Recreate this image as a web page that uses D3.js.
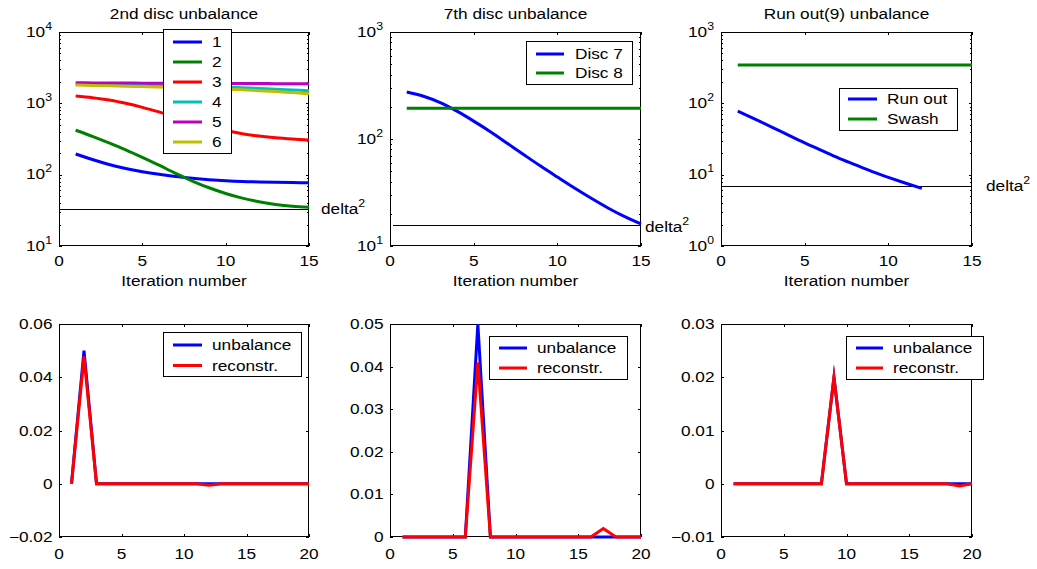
<!DOCTYPE html>
<html>
<head>
<meta charset="utf-8">
<script src="https://cdn.jsdelivr.net/npm/d3@7"></script>
<style>
  html, body { margin: 0; padding: 0; background: #fff; }
  svg { display: block; font-family: "Liberation Sans", Arial, Helvetica, sans-serif; }
</style>
</head>
<body>
<svg id="fig" width="1037" height="569"></svg>
<script>
// ---------- data ----------
const iterations = [1, 2, 3, 4, 5, 6, 7, 8, 9, 10, 11, 12, 13, 14, 15];
const iterationsRunOut = [1, 2, 3, 4, 5, 6, 7, 8, 9, 10, 11, 12];
const positions = [1, 2, 3, 4, 5, 6, 7, 8, 9, 10, 11, 12, 13, 14, 15, 16, 17, 18, 19, 20];

// 2nd disc unbalance: residual per iteration, one series per disc
const disc2Names = ["1", "2", "3", "4", "5", "6"];
const disc2S1 = [195, 163, 139, 122, 110, 101, 94, 89, 85, 82, 80, 79, 78, 77.5, 77];
const disc2S2 = [420, 345, 279, 223, 175, 136, 104, 81.5, 65.5, 54.5, 46.9, 41.8, 38.3, 36.1, 35];
const disc2S3 = [1268, 1200, 1114, 1000, 879, 760, 650, 555, 475, 415, 375, 348, 328, 315, 306];
const disc2S4 = [1850, 1840, 1825, 1810, 1795, 1775, 1755, 1735, 1710, 1680, 1650, 1615, 1580, 1540, 1500];
const disc2S5 = [1940, 1935, 1930, 1925, 1920, 1915, 1910, 1905, 1900, 1897, 1894, 1891, 1888, 1885, 1880];
const disc2S6 = [1800, 1780, 1760, 1740, 1720, 1695, 1670, 1645, 1615, 1580, 1545, 1505, 1465, 1420, 1360];
const disc2Delta = 33.5;

// 7th disc unbalance
const disc7Names = ["Disc 7", "Disc 8"];
const disc7S7 = [275, 251, 219, 182, 147, 117, 91.4, 71.3, 55.8, 44.1, 35, 28.1, 22.8, 18.9, 16.1];
const disc7S8 = [194, 194, 194, 194, 194, 194, 194, 194, 194, 194, 194, 194, 194, 194, 194];
const disc7Delta = 15.6;

// Run out(9) unbalance
const runOutNames = ["Run out", "Swash"];
const runOutS = [78, 60.5, 46.9, 36.1, 27.9, 21.9, 17.2, 13.8, 11.1, 9.16, 7.64, 6.41];
const swashS = [345, 345, 345, 345, 345, 345, 345, 345, 345, 345, 345, 345, 345, 345, 345];
const runOutDelta = 6.9;

// unbalance vs. reconstruction along the shaft
const recNames = ["unbalance", "reconstr."];
const unb1 = [0, 0.05, 0, 0, 0, 0, 0, 0, 0, 0, 0, 0, 0, 0, 0, 0, 0, 0, 0, 0];
const rec1 = [0, 0.0478, 0, 0, 0, 0, 0, 0, 0, 0, 0, -0.0006, 0, 0, 0, 0, 0, 0, 0, 0];
const unb2 = [0, 0, 0, 0, 0, 0, 0.05, 0, 0, 0, 0, 0, 0, 0, 0, 0, 0, 0, 0, 0];
const rec2 = [0, 0, 0, 0, 0, 0, 0.041, 0, 0, 0, 0, 0, 0, 0, 0, 0, 0.002, 0, 0, 0];
const unb3 = [0, 0, 0, 0, 0, 0, 0, 0, 0.02, 0, 0, 0, 0, 0, 0, 0, 0, 0, 0, 0];
const rec3 = [0, 0, 0, 0, 0, 0, 0, 0, 0.02, 0, 0, 0, 0, 0, 0, 0, 0, 0, -0.0004, 0];

// tick values and labels
const xTicksTop = [0, 5, 10, 15];
const xTickLabelsTop = ["0", "5", "10", "15"];
const xTicksBottom = [0, 5, 10, 15, 20];
const xTickLabelsBottom = ["0", "5", "10", "15", "20"];
const decadesDisc2 = [1, 2, 3, 4];
const decadesDisc7 = [1, 2, 3];
const decadesRunOut = [0, 1, 2, 3];
const yTicksB1 = [-0.02, 0, 0.02, 0.04, 0.06];
const yTickLabelsB1 = ["\u22120.02", "0", "0.02", "0.04", "0.06"];
const yTicksB2 = [0, 0.01, 0.02, 0.03, 0.04, 0.05];
const yTickLabelsB2 = ["0", "0.01", "0.02", "0.03", "0.04", "0.05"];
const yTicksB3 = [-0.01, 0, 0.01, 0.02, 0.03];
const yTickLabelsB3 = ["\u22120.01", "0", "0.01", "0.02", "0.03"];

// ---------- colours (MATLAB default line order) ----------
const BLUE = "#0000ff", GREEN = "#008000", RED = "#ff0000",
      CYAN = "#00bfbf", MAGENTA = "#bf00bf", OLIVE = "#bfbf00";

// ---------- drawing helpers ----------
const svg = d3.select("#fig");
const SX = 1.23;        // horizontal text stretch of the figure
const FS = 14;          // base font size

function label(g, x, y, s, anchor = "start", size = FS) {
  return g.append("text")
    .attr("transform", `translate(${x},${y}) scale(${SX},1)`)
    .attr("text-anchor", anchor)
    .attr("font-size", size)
    .attr("fill", "#000")
    .text(s);
}

function powerLabel(g, x, y, base, exp, anchor = "end") {
  const t = g.append("text")
    .attr("transform", `translate(${x},${y}) scale(${SX},1)`)
    .attr("text-anchor", anchor)
    .attr("font-size", FS)
    .attr("fill", "#000");
  t.append("tspan").text(base);
  t.append("tspan").attr("dy", -7).attr("font-size", 10).text(exp);
  return t;
}

let clipId = 0;

function drawPanel(p) {
  const g = svg.append("g");
  const [x0, x1] = p.xr, [y0, y1] = p.yr;
  const x = d3.scaleLinear().domain(p.xDomain).range([x0, x1]);
  const y = (p.log ? d3.scaleLog() : d3.scaleLinear()).domain(p.yDomain).range([y1, y0]);

  // white axes background
  g.append("rect").attr("x", x0).attr("y", y0).attr("width", x1 - x0).attr("height", y1 - y0)
    .attr("fill", "#fff");

  // frame (drawn beneath the data, like an axes layer at the bottom)
  g.append("rect").attr("x", x0 + 0.5).attr("y", y0 + 0.5)
    .attr("width", x1 - x0 - 1).attr("height", y1 - y0 - 1)
    .attr("fill", "none").attr("stroke", "#000").attr("stroke-width", 1);

  // inward ticks on all four sides
  const tickAxes = [
    [d3.axisBottom(x).tickValues(p.xTicks), `translate(0,${y1})`, -3],
    [d3.axisTop(x).tickValues(p.xTicks), `translate(0,${y0})`, -3],
    [d3.axisLeft(y).tickValues(p.yTicks), `translate(${x0},0)`, -3],
    [d3.axisRight(y).tickValues(p.yTicks), `translate(${x1},0)`, -3]
  ];
  if (p.minor) {
    tickAxes.push([d3.axisLeft(y).tickValues(p.minor), `translate(${x0},0)`, -2]);
    tickAxes.push([d3.axisRight(y).tickValues(p.minor), `translate(${x1},0)`, -2]);
  }
  tickAxes.forEach(([ax, tr, len]) => {
    const a = g.append("g").attr("transform", tr)
      .call(ax.tickSizeInner(len).tickSizeOuter(0).tickFormat(""));
    a.select(".domain").remove();
    a.selectAll("line").attr("stroke", "#000").attr("stroke-width", 1).attr("shape-rendering", "crispEdges");
  });

  // data lines, clipped slightly outside the axes so edge lines keep full width
  const cid = "clip" + (clipId++);
  g.append("clipPath").attr("id", cid).append("rect")
    .attr("x", x0 - 2).attr("y", y0 - 1).attr("width", x1 - x0 + 4).attr("height", y1 - y0 + 3);
  const plot = g.append("g").attr("clip-path", `url(#${cid})`);

  if (p.delta !== undefined) {
    plot.append("line")
      .attr("x1", x(p.deltaFrom)).attr("x2", x1)
      .attr("y1", Math.round(y(p.delta)) + 0.5).attr("y2", Math.round(y(p.delta)) + 0.5)
      .attr("stroke", "#000").attr("stroke-width", 1)
      .attr("shape-rendering", "crispEdges");
  }

  const line = d3.line().x(d => x(d[0])).y(d => y(d[1]))
    .curve(p.smooth ? d3.curveMonotoneX : d3.curveLinear);
  p.series.forEach(s => {
    plot.append("path")
      .datum(d3.zip(s.x, s.y))
      .attr("d", line)
      .attr("fill", "none")
      .attr("stroke", s.color)
      .attr("stroke-width", 3)
      .attr("stroke-linejoin", "miter")
      .attr("stroke-miterlimit", 10);
  });

  // tick labels
  p.xTicks.forEach((v, i) => label(g, x(v), y1 + p.xLabelDy, p.xTickLabels[i], "middle"));
  if (p.log) {
    p.yTicks.forEach((v, i) => powerLabel(g, x0 - 7, y(v) + 4.5, "10", String(p.decades[i])));
  } else {
    p.yTicks.forEach((v, i) => label(g, x0 - 6.5, y(v) + 5, p.yTickLabels[i], "end"));
  }

  if (p.title) label(g, (x0 + x1) / 2, 19, p.title, "middle");
  if (p.xTitle) label(g, (x0 + x1) / 2, 286, p.xTitle, "middle");

  if (p.delta !== undefined) {
    powerLabel(g, x1 + p.deltaDx, y(p.delta) + p.deltaDy, "delta", "2", "start");
  }

  // legend
  if (p.legend) {
    const L = p.legend;
    const lg = svg.append("g");
    lg.append("rect").attr("x", L.box[0] + 0.5).attr("y", L.box[1] + 0.5)
      .attr("width", L.box[2] - L.box[0]).attr("height", L.box[3] - L.box[1])
      .attr("fill", "#fff").attr("stroke", "#000").attr("stroke-width", 1);
    L.names.forEach((n, i) => {
      const ry = L.row0 + i * L.step;
      lg.append("line").attr("x1", L.line[0]).attr("x2", L.line[1])
        .attr("y1", ry).attr("y2", ry)
        .attr("stroke", L.colors[i]).attr("stroke-width", 3);
      label(lg, L.textX, ry + 5, n, "start");
    });
  }
}

function minorTicks(decades) {
  const out = [];
  for (let i = 0; i < decades.length - 1; i++)
    for (let k = 2; k <= 9; k++) out.push(k * Math.pow(10, decades[i]));
  return out;
}

const colTop = [[59, 309], [390, 641], [721, 972]];
const rowTop = [32, 246], rowBottom = [324, 537];

// ---------- top row: residual vs. iteration (log scale) ----------
drawPanel({
  xr: colTop[0], yr: rowTop, xDomain: [0, 15], log: true, smooth: true,
  yDomain: [Math.pow(10, decadesDisc2[0]), Math.pow(10, decadesDisc2[decadesDisc2.length - 1])],
  xTicks: xTicksTop, xTickLabels: xTickLabelsTop, xLabelDy: 20,
  yTicks: decadesDisc2.map(e => Math.pow(10, e)), decades: decadesDisc2, minor: minorTicks(decadesDisc2),
  title: "2nd disc unbalance", xTitle: "Iteration number",
  delta: disc2Delta, deltaFrom: 0, deltaDx: 12, deltaDy: 5,
  series: [
    { x: iterations, y: disc2S1, color: BLUE },
    { x: iterations, y: disc2S2, color: GREEN },
    { x: iterations, y: disc2S3, color: RED },
    { x: iterations, y: disc2S4, color: CYAN },
    { x: iterations, y: disc2S5, color: MAGENTA },
    { x: iterations, y: disc2S6, color: OLIVE }
  ],
  legend: { box: [163, 29, 231, 153], row0: 42, step: 20, line: [173, 202], textX: 212,
            names: disc2Names, colors: [BLUE, GREEN, RED, CYAN, MAGENTA, OLIVE] }
});

drawPanel({
  xr: colTop[1], yr: rowTop, xDomain: [0, 15], log: true, smooth: true,
  yDomain: [Math.pow(10, decadesDisc7[0]), Math.pow(10, decadesDisc7[decadesDisc7.length - 1])],
  xTicks: xTicksTop, xTickLabels: xTickLabelsTop, xLabelDy: 20,
  yTicks: decadesDisc7.map(e => Math.pow(10, e)), decades: decadesDisc7, minor: minorTicks(decadesDisc7),
  title: "7th disc unbalance", xTitle: "Iteration number",
  delta: disc7Delta, deltaFrom: 0.2, deltaDx: 4, deltaDy: 6.5,
  series: [
    { x: iterations, y: disc7S7, color: BLUE },
    { x: iterations, y: disc7S8, color: GREEN }
  ],
  legend: { box: [526, 41, 632, 84], row0: 54, step: 19, line: [536, 564], textX: 575,
            names: disc7Names, colors: [BLUE, GREEN] }
});

drawPanel({
  xr: colTop[2], yr: rowTop, xDomain: [0, 15], log: true, smooth: true,
  yDomain: [Math.pow(10, decadesRunOut[0]), Math.pow(10, decadesRunOut[decadesRunOut.length - 1])],
  xTicks: xTicksTop, xTickLabels: xTickLabelsTop, xLabelDy: 20,
  yTicks: decadesRunOut.map(e => Math.pow(10, e)), decades: decadesRunOut, minor: minorTicks(decadesRunOut),
  title: "Run out(9) unbalance", xTitle: "Iteration number",
  delta: runOutDelta, deltaFrom: 0, deltaDx: 14, deltaDy: 4.7,
  series: [
    { x: iterationsRunOut, y: runOutS, color: BLUE },
    { x: iterations, y: swashS, color: GREEN }
  ],
  legend: { box: [839, 88, 957, 130], row0: 99, step: 20, line: [848, 877], textX: 887,
            names: runOutNames, colors: [BLUE, GREEN] }
});

// ---------- bottom row: unbalance vs. reconstruction ----------
const bottomPanels = [
  { col: colTop[0], yT: yTicksB1, yL: yTickLabelsB1, u: unb1, r: rec1,
    legend: { box: [163, 332, 301, 376], row0: 345, step: 20.5, line: [173, 202], textX: 212 } },
  { col: colTop[1], yT: yTicksB2, yL: yTickLabelsB2, u: unb2, r: rec2,
    legend: { box: [489, 336, 627, 379], row0: 348, step: 20, line: [499, 527], textX: 537 } },
  { col: colTop[2], yT: yTicksB3, yL: yTickLabelsB3, u: unb3, r: rec3,
    legend: { box: [846, 336, 983, 379], row0: 348, step: 20, line: [856, 883], textX: 893 } }
];

bottomPanels.forEach(b => {
  drawPanel({
    xr: b.col, yr: rowBottom, xDomain: [0, 20], log: false,
    yDomain: [b.yT[0], b.yT[b.yT.length - 1]],
    xTicks: xTicksBottom, xTickLabels: xTickLabelsBottom, xLabelDy: 22,
    yTicks: b.yT, yTickLabels: b.yL,
    series: [
      { x: positions, y: b.u, color: BLUE },
      { x: positions, y: b.r, color: RED }
    ],
    legend: Object.assign({}, b.legend, { names: recNames, colors: [BLUE, RED] })
  });
});
</script>
</body>
</html>
